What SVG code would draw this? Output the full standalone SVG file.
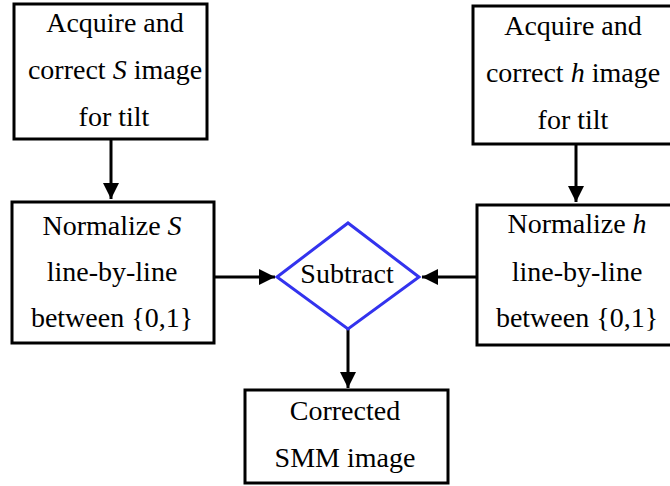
<svg xmlns="http://www.w3.org/2000/svg" width="670" height="486" viewBox="0 0 670 486">
  <defs>
    <style>
      .box { fill: #ffffff; stroke: #000000; stroke-width: 3; }
      .dec { fill: #ffffff; stroke: #3333ee; stroke-width: 3; stroke-linejoin: miter; }
      .edge { stroke: #000000; stroke-width: 3; fill: none; marker-end: url(#head); }
    </style>
    <marker id="head" markerUnits="userSpaceOnUse" markerWidth="16" markerHeight="16" viewBox="0 0 16 16" refX="16" refY="8" orient="auto">
      <path d="M0,0 L16,8 L0,16 Z" fill="#000000"/>
    </marker>
  </defs>

  <rect width="670" height="486" fill="#ffffff"/>

  <!-- connectors -->
  <g id="connectors">
    <line class="edge" x1="111" y1="139" x2="111" y2="199"/>
    <line class="edge" x1="576" y1="144" x2="576" y2="202"/>
    <line class="edge" x1="214" y1="277" x2="275" y2="277"/>
    <line class="edge" x1="477" y1="277" x2="422" y2="277"/>
    <line class="edge" x1="348" y1="329" x2="348" y2="388"/>
  </g>

  <!-- all labels share one serif face, centred on their anchor -->
  <g font-family="Liberation Serif" font-size="28" text-anchor="middle" fill="#000000">
    <!-- acquire S -->
    <g id="acquire-s">
      <rect class="box" x="14" y="4" width="193" height="135"/>
      <text x="115" y="32">Acquire and</text>
      <text x="115" y="79">correct <tspan font-style="italic">S</tspan> image</text>
      <text x="114" y="126">for tilt</text>
    </g>

    <!-- acquire h -->
    <g id="acquire-h">
      <rect class="box" x="473" y="6" width="210" height="138"/>
      <text x="573" y="35">Acquire and</text>
      <text x="573" y="82">correct <tspan font-style="italic">h</tspan> image</text>
      <text x="573" y="129">for tilt</text>
    </g>

    <!-- normalize S -->
    <g id="normalize-s">
      <rect class="box" x="12" y="202" width="202" height="141"/>
      <text x="112" y="235">Normalize <tspan font-style="italic">S</tspan></text>
      <text x="112" y="281">line-by-line</text>
      <text x="112" y="327">between {0,1}</text>
    </g>

    <!-- normalize h -->
    <g id="normalize-h">
      <rect class="box" x="477" y="205" width="210" height="140"/>
      <text x="577" y="233">Normalize <tspan font-style="italic">h</tspan></text>
      <text x="577" y="281">line-by-line</text>
      <text x="577" y="327">between {0,1}</text>
    </g>

    <!-- subtract decision -->
    <g id="subtract">
      <polygon class="dec" points="277,277 348,223 419,277 348,329"/>
      <text x="347" y="283">Subtract</text>
    </g>

    <!-- result -->
    <g id="corrected-smm">
      <rect class="box" x="245" y="390" width="203" height="93"/>
      <text x="345" y="420">Corrected</text>
      <text x="345" y="467">SMM image</text>
    </g>
  </g>
</svg>
